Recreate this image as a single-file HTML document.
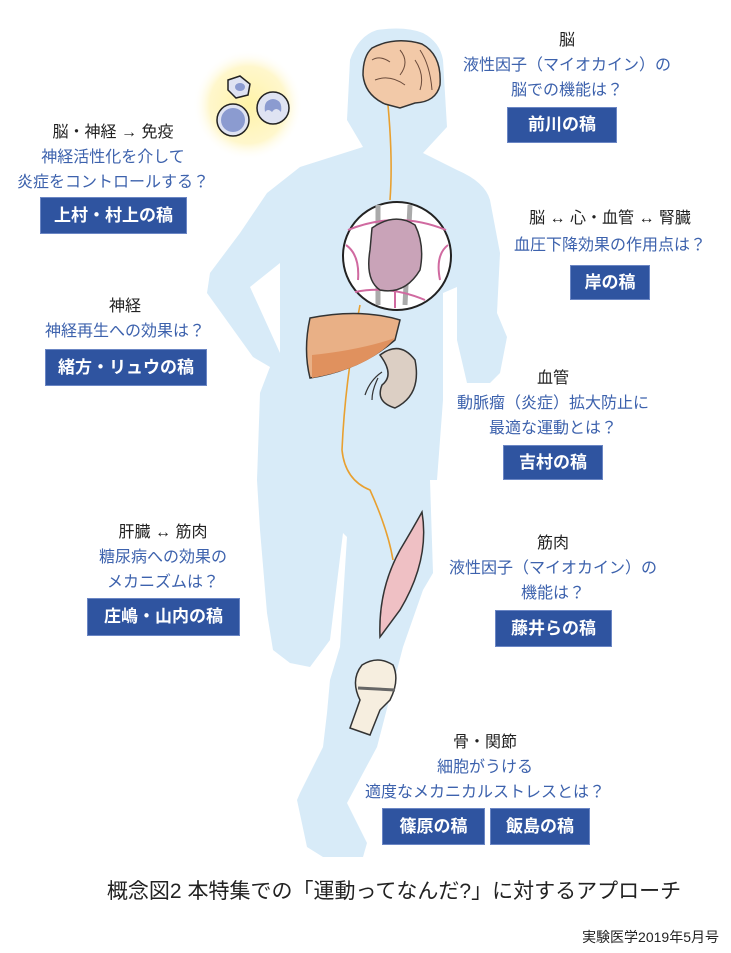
<!DOCTYPE html>
<html><head><meta charset="utf-8"><style>
body{margin:0;width:731px;height:953px;background:#fff;position:relative;overflow:hidden;font-family:"Liberation Sans","Noto Sans CJK JP",sans-serif}
.t{position:absolute;text-align:center;font-size:16px;line-height:25px;white-space:nowrap;transform:translateX(-50%)}
.k{color:#222}.b{color:#3d62ad}
.x{position:absolute;background:#2f54a0;color:#fff;font-weight:bold;font-size:17px;text-align:center;border:1px solid #6b86c4;box-sizing:border-box}
svg{position:absolute;left:0;top:0}
</style></head><body>
<svg width="731" height="953">
<defs><radialGradient id="g"><stop offset="0" stop-color="#fff3a8"/><stop offset="0.7" stop-color="#fff7cc"/><stop offset="1" stop-color="#fff" stop-opacity="0"/></radialGradient></defs>
<circle cx="248" cy="105" r="55" fill="url(#g)"/>
<path fill="#d8ebf8" d="M377 30 Q405 26 423 33 Q440 42 443 60 L447 127 L423 153 L457 170 Q485 182 490 200 L500 253 L497 313 L507 337 L500 373 L490 383 L467 383 L457 340 L457 287 L443 293 L443 400 L437 480 L430 480 L433 573 L423 590 L403 647 L377 747 L347 803 L367 843 L363 857 L323 857 L307 847 L297 800 L300 793 L323 747 L327 713 L330 680 L340 647 L347 537 L343 533 L330 640 L310 667 L290 663 L273 650 L267 613 L260 530 L257 480 L260 393 L270 367 L253 357 L207 293 L210 273 L240 233 L267 193 L300 167 L363 147 L347 120 L350 60 Q358 36 377 30 Z"/>
<path fill="#fff" d="M250 287 L280 263 L280 353 Z"/>
<path d="M228 80 L240 76 L250 84 L248 95 L236 98 L228 90Z" fill="#dfe3f2" stroke="#222" stroke-width="1.5"/><ellipse cx="240" cy="87" rx="5" ry="4" fill="#8b9bd0"/>
<circle cx="233" cy="120" r="16" fill="#dfe3f2" stroke="#222" stroke-width="1.5"/><circle cx="233" cy="120" r="12" fill="#8b9bd0"/>
<circle cx="273" cy="108" r="16" fill="#dfe3f2" stroke="#222" stroke-width="1.5"/><path d="M265 112 Q263 100 273 99 Q283 100 281 112 Q276 106 272 112 Q268 108 265 112Z" fill="#8b9bd0"/>
<path d="M388 105 Q393 160 390 200 M360 305 Q345 380 342 450 Q345 480 370 490 Q388 530 393 560" stroke="#e8a030" stroke-width="1.6" fill="none"/>
<path d="M372 48 Q395 36 422 44 Q442 55 440 85 Q436 102 415 103 L400 108 L385 104 Q365 95 363 75 Q363 56 372 48Z" fill="#f2c9a8" stroke="#333" stroke-width="1.5"/>
<path d="M372 60 Q380 55 390 62 M400 50 Q410 62 400 75 M375 80 Q390 74 405 85 M415 60 Q425 75 420 90 M420 50 Q430 65 432 90" stroke="#6a4a3a" stroke-width="1" fill="none"/>
<circle cx="397" cy="256" r="54" fill="#fff" stroke="#222" stroke-width="2"/>
<path d="M378 205 L378 305 M410 205 L405 305" stroke="#aaa" stroke-width="5"/>
<path d="M348 230 Q397 210 446 230 M346 245 Q360 255 358 280 M448 245 Q435 255 440 280 M355 292 Q390 285 425 300 M395 260 L395 308" stroke="#d06aa0" stroke-width="2" fill="none"/>
<path d="M372 228 Q395 212 415 225 Q425 245 420 270 Q405 295 380 290 Q365 280 370 250Z" fill="#c9a3b8" stroke="#333" stroke-width="1.5"/>
<path d="M310 318 Q360 308 400 320 L395 340 Q360 370 310 378 Q303 350 310 318Z" fill="#e9b086" stroke="#333" stroke-width="1.5"/>
<path d="M312 355 Q360 350 395 338 Q370 368 312 378Z" fill="#e0915e"/>
<path d="M380 355 Q400 340 415 360 Q422 395 395 408 Q375 402 382 385 Q395 375 380 355Z" fill="#dccfc4" stroke="#333" stroke-width="1.5"/>
<path d="M382 372 Q370 380 365 395 M378 378 Q372 390 372 400" stroke="#333" stroke-width="1.2" fill="none"/>
<path d="M422 512 Q430 560 400 610 L380 637 Q378 590 400 550 Q412 530 422 512Z" fill="#efc0c4" stroke="#333" stroke-width="1.5"/>
<path d="M362 665 Q378 655 393 665 Q400 680 390 700 L380 710 L370 735 L350 728 L360 700 Q350 680 362 665Z" fill="#f6eedf" stroke="#333" stroke-width="1.5"/>
<path d="M358 688 L395 690" stroke="#666" stroke-width="3"/>
</svg>
<div class="t k" style="left:567px;top:28px">脳</div>
<div class="t b" style="left:567px;top:53px">液性因子（マイオカイン）の<br>脳での機能は？</div>
<div class="x" style="left:507px;top:107px;width:110px;height:36px;line-height:34px">前川の稿</div>
<div class="t k" style="left:113px;top:120px">脳・神経 → 免疫</div>
<div class="t b" style="left:113px;top:145px">神経活性化を介して<br>炎症をコントロールする？</div>
<div class="x" style="left:40px;top:197px;width:147px;height:37px;line-height:35px">上村・村上の稿</div>
<div class="t k" style="left:125px;top:294px">神経</div>
<div class="t b" style="left:125px;top:319px">神経再生への効果は？</div>
<div class="x" style="left:45px;top:349px;width:162px;height:37px;line-height:35px">緒方・リュウの稿</div>
<div class="t k" style="left:610px;top:206px">脳 ↔ 心・血管 ↔ 腎臓</div>
<div class="t b" style="left:610px;top:233px">血圧下降効果の作用点は？</div>
<div class="x" style="left:570px;top:265px;width:80px;height:35px;line-height:33px">岸の稿</div>
<div class="t k" style="left:553px;top:366px">血管</div>
<div class="t b" style="left:553px;top:391px">動脈瘤（炎症）拡大防止に<br>最適な運動とは？</div>
<div class="x" style="left:503px;top:445px;width:100px;height:35px;line-height:33px">吉村の稿</div>
<div class="t k" style="left:163px;top:520px">肝臓 ↔ 筋肉</div>
<div class="t b" style="left:163px;top:545px">糖尿病への効果の<br>メカニズムは？</div>
<div class="x" style="left:87px;top:598px;width:153px;height:38px;line-height:36px">庄嶋・山内の稿</div>
<div class="t k" style="left:553px;top:531px">筋肉</div>
<div class="t b" style="left:553px;top:556px">液性因子（マイオカイン）の<br>機能は？</div>
<div class="x" style="left:495px;top:610px;width:117px;height:37px;line-height:35px">藤井らの稿</div>
<div class="t k" style="left:485px;top:730px">骨・関節</div>
<div class="t b" style="left:485px;top:755px">細胞がうける<br>適度なメカニカルストレスとは？</div>
<div class="x" style="left:382px;top:808px;width:103px;height:37px;line-height:35px">篠原の稿</div>
<div class="x" style="left:490px;top:808px;width:100px;height:37px;line-height:35px">飯島の稿</div>
<div class="t k" style="left:394px;top:878px;font-size:21px;line-height:28px">概念図2 本特集での「運動ってなんだ?」に対するアプローチ</div>
<div style="position:absolute;right:12px;top:927px;font-size:14px;color:#222">実験医学2019年5月号</div>
</body></html>
